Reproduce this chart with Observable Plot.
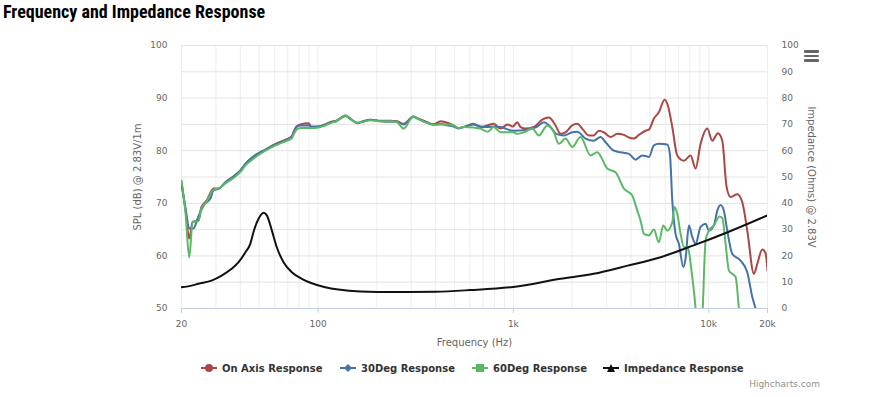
<!DOCTYPE html>
<html>
<head>
<meta charset="utf-8">
<script src="https://cdn.jsdelivr.net/npm/d3@7"></script>
<script src="https://cdn.jsdelivr.net/npm/@observablehq/plot@0.6"></script>
<style>
  html, body { margin: 0; padding: 0; background: #fff; }
  #wrap { position: relative; width: 874px; height: 397px; overflow: hidden; font-family: "DejaVu Sans", sans-serif; }
  #title { position: absolute; left: 3px; top: 1px; font: bold 18px/22px "Liberation Sans Narrow", "Roboto Condensed", Roboto, sans-serif; font-stretch: condensed; color: #000; white-space: nowrap; }
  .leg { position: absolute; top: 361px; display: flex; align-items: center; font: bold 10px "DejaVu Sans", sans-serif; color: #333; white-space: nowrap; height: 14px; }
  .leg svg { margin-right: 5px; }
  #credit { position: absolute; right: 54px; top: 379px; font: 9px "DejaVu Sans", sans-serif; color: #909090; }
  #menu { position: absolute; left: 804px; top: 50px; width: 15px; height: 12px; }
  #menu div { height: 2.5px; background: #666; margin-bottom: 2px; border-radius: 1px; }
</style>
</head>
<body>
<div id="wrap">
  <div id="title">Frequency and Impedance Response</div>
  <div id="menu"><div></div><div></div><div></div></div>
  <div id="credit">Highcharts.com</div>
</div>
<script>
// ---------- data (frequency Hz, value) ----------
const onAxis = [[20,74],[21,68.5],[21.9,63.3],[22.8,66.5],[24.4,66.7],[25.3,69.3],[26.9,70.5],[29.2,72.8],[30.9,72.8],[33.6,74],[36.9,75.1],[40.1,76.2],[42.5,77.5],[47.9,79.1],[53.8,80.2],[60.6,81.3],[68.2,82.1],[73.2,82.7],[75.5,83.8],[77.6,84.6],[81.4,85],[89.4,85.2],[92.6,84.5],[100.6,84.6],[109,85],[117,85.5],[124,85.7],[138,86.7],[146.6,86.1],[158.8,85.2],[171,85.6],[185.7,85.9],[209,85.7],[235,85.7],[254,85.6],[274,85.1],[308,86.5],[327,86.1],[362,85.4],[390,85],[424,85.6],[450,85.4],[494,84.8],[524,84.3],[556,84.5],[625,85.1],[679,84.5],[792,85.1],[860,84.2],[934,85],[993,84.6],[1047,85.4],[1088,84.5],[1154,84.2],[1274,84.5],[1406,85.9],[1520,86.3],[1644,84.8],[1744,83.2],[1850,83.5],[2002,84.8],[2124,85.1],[2252,84.2],[2436,82.9],[2575,82.9],[2740,83.8],[2906,83.5],[3145,82.6],[3404,83.2],[3680,83],[3902,82.5],[4140,82.3],[4390,83],[4750,83.8],[4940,84],[5240,86.1],[5556,87.3],[5944,89.7],[6180,88.6],[6510,84.5],[6904,79.1],[7464,78.1],[8078,79.1],[8566,76.6],[9090,81.3],[9834,84.2],[10434,81.9],[11144,83.3],[11738,81.9],[12348,73.1],[12940,71.2],[14006,71.7],[14856,70.2],[15760,64.8],[17040,56.6],[17734,58.5],[18808,61.2],[19558,60.5],[20000,57.2]];

const deg30 = [[20,73.5],[21,69],[21.9,65.2],[23,65.2],[24.4,67.5],[26.2,69.8],[28.2,71],[29.2,72.5],[30.9,72.7],[33.6,74],[36.9,75.1],[40.1,76.3],[42.5,77.5],[47.9,79.2],[53.8,80.2],[60.6,81.2],[68.2,82],[73.2,82.6],[75.5,83.7],[77.6,84.5],[81.4,84.8],[89.4,84.8],[92.6,84.6],[100.6,84.6],[109,85],[117,85.4],[124,85.6],[138,86.6],[146.6,86],[158.8,85.3],[171,85.6],[185.7,85.9],[209,85.6],[235,85.5],[254,85.5],[274,85],[308,86.4],[327,86],[362,85.3],[390,85],[424,85.1],[450,84.9],[494,84.6],[524,84.2],[556,84.5],[625,85],[679,84.6],[740,84.5],[792,84.6],[860,84.5],[1000,83.8],[1178,84],[1326,84.6],[1432,85.4],[1550,84.5],[1660,83.2],[1814,82.9],[2002,83.5],[2124,83.6],[2342,82.3],[2575,81.9],[2796,82.6],[2966,81.6],[3270,80],[3540,79.7],[3902,79.4],[4224,78.3],[4570,79.1],[4750,79],[4940,78.8],[5240,81],[5556,81.3],[6138,81.2],[6330,79.4],[6510,70.5],[6766,64.2],[7036,62.3],[7414,57.9],[7614,59.5],[7916,65.8],[8240,63.6],[8566,62.3],[9090,65.5],[9640,66.1],[10024,64.8],[10632,65.8],[11068,68.6],[11500,69.7],[11960,68.6],[12450,64.8],[13200,60.4],[14560,59.1],[15760,56.9],[16718,52.2],[17380,50],[18440,47],[20000,45]];

const deg60 = [[20,74.3],[21,68],[21.9,59.7],[22.8,66.4],[24.4,66.6],[25.3,69],[26.9,70.3],[29.2,72.6],[30.9,72.8],[33.6,73.8],[36.9,74.8],[40.1,76],[42.5,77.2],[47.9,78.8],[53.8,80],[60.6,81],[68.2,81.8],[73.2,82.3],[75.5,83.3],[77.6,84],[81.4,84.3],[89.4,84.3],[92.6,84.3],[100.6,84.4],[109,84.8],[117,85.3],[124,85.6],[138,86.7],[146.6,86],[158.8,85.3],[171,85.5],[185.7,85.8],[209,85.6],[235,85.6],[254,85.4],[274,84.2],[308,86.5],[327,86],[362,85.3],[390,84.9],[424,85],[450,85],[494,84.8],[524,84.3],[556,84.5],[625,84.4],[679,84.2],[740,83.6],[792,84.5],[860,83.5],[1000,83.5],[1047,83.2],[1131,83.5],[1250,84.2],[1350,82.9],[1492,84.8],[1612,83.5],[1710,81.3],[1850,82.3],[2002,80.7],[2208,82.6],[2484,79.1],[2690,79.7],[3025,76.6],[3336,75.9],[3680,72.8],[4060,71.5],[4310,68.6],[4480,66.7],[4660,64.2],[4940,63.9],[5240,65],[5556,62.6],[5854,65.8],[6138,64.8],[6510,66.4],[6686,69.3],[6904,68],[7180,64.2],[7464,61.7],[7770,61.7],[8240,56],[8570,50],[8900,42],[9268,48],[9640,62.9],[10024,64.8],[10632,65.8],[11356,67.5],[11738,67.2],[12204,62.3],[12690,57.2],[13734,56],[14278,50],[15000,42],[20000,35]];

const impedance = [[20,8.1],[22.2,8.6],[24.4,9.4],[28.5,10.6],[32.1,12.5],[36.1,15.1],[39.2,17.6],[42.5,21.4],[45,24.6],[46.7,29],[49.6,34.1],[52.6,36.4],[54.7,35.4],[58,29.7],[61.5,23.3],[66.6,17.6],[73.4,13.8],[82.6,11.3],[92.9,9.6],[108.8,8.1],[127,7.2],[165,6.5],[250,6.3],[400,6.4],[600,7],[1000,8.2],[1744,11.3],[2575,13.2],[3843,16.3],[5672,19.5],[8370,24],[12500,29],[20000,35.4]];

const seriesNames = ["On Axis Response", "30Deg Response", "60Deg Response", "Impedance Response"];
const seriesColors = ["#AA4643", "#4572A7", "#5BB865", "#111111"];
const xTicks = [20, 100, 1000, 10000, 20000];
const xTickLabels = ["20", "100", "1k", "10k", "20k"];
const splTicks = [50, 60, 70, 80, 90, 100];
const ohmTicks = [0, 10, 20, 30, 40, 50, 60, 70, 80, 90, 100];
const xGrid = [20,30,40,50,60,70,80,90,100,200,300,400,500,600,700,800,900,1000,2000,3000,4000,5000,6000,7000,8000,9000,10000,20000];

// impedance axis (0..100 ohm) shares the SPL scale: 0 ohm -> 50 dB, 100 ohm -> 100 dB
const ohmToSpl = z => 50 + z / 2;

const lineOpts = (color) => ({
  x: d => d[0], y: d => d[1], stroke: color, strokeWidth: 2,
  curve: "monotone-x", clip: true
});

const chart = Plot.plot({
  width: 874, height: 397,
  marginTop: 45, marginBottom: 89, marginLeft: 181, marginRight: 107,
  x: { type: "log", domain: [20, 20000] },
  y: { domain: [50, 100] },
  style: { fontFamily: "DejaVu Sans, sans-serif", fontSize: "9px", color: "#666", background: "transparent", overflow: "visible" },
  marks: [
    Plot.gridX(xGrid, { stroke: "#eeeeee", strokeOpacity: 1 }),
    Plot.gridY(ohmTicks.map(ohmToSpl), { stroke: "#e3e3e3", strokeOpacity: 1 }),
    Plot.axisY(splTicks, { anchor: "left", tickSize: 0, tickPadding: 14, label: null }),
    Plot.axisY(ohmTicks.map(ohmToSpl), { anchor: "right", tickSize: 0, tickPadding: 14, label: null, tickFormat: d => String(Math.round((d - 50) * 2)) }),
    Plot.ruleY([50], { stroke: "#C0D0E0" }),
    Plot.axisX(xTicks, { anchor: "bottom", tickSize: 5, tickPadding: 7, stroke: "#C0D0E0", label: null, tickFormat: d => xTickLabels[xTicks.indexOf(d)] }),
    Plot.text(["SPL (dB) @ 2.83V/1m"], { frameAnchor: "left", textAnchor: "middle", dx: -44, rotate: -90, fontSize: 10, fill: "#666" }),
    Plot.text(["Impedance (Ohms) @ 2.83V"], { frameAnchor: "right", textAnchor: "middle", dx: 44, rotate: 90, fontSize: 10, fill: "#666" }),
    Plot.text(["Frequency (Hz)"], { frameAnchor: "bottom", textAnchor: "middle", dy: 37, fontSize: 10, fill: "#666" }),
    Plot.line(onAxis, lineOpts(seriesColors[0])),
    Plot.line(deg30, lineOpts(seriesColors[1])),
    Plot.line(deg60, lineOpts(seriesColors[2])),
    Plot.line(impedance, { ...lineOpts(seriesColors[3]), y: d => ohmToSpl(d[1]) })
  ]
});
chart.style.position = "absolute";
chart.style.left = "0px";
chart.style.top = "0px";
const wrap = document.getElementById("wrap");
wrap.insertBefore(chart, wrap.firstChild);

// legend
const legendLeft = [201, 340, 472, 603];
const symbols = [
  c => `<circle cx="8" cy="7" r="4" fill="${c}"/>`,
  c => `<path d="M8 3 L12 7 L8 11 L4 7 Z" fill="${c}"/>`,
  c => `<rect x="4" y="3" width="8" height="8" fill="${c}"/>`,
  c => `<path d="M8 3 L12 11 L4 11 Z" fill="${c}"/>`
];
seriesNames.forEach((name, i) => {
  const item = document.createElement("div");
  item.className = "leg";
  item.style.left = legendLeft[i] + "px";
  item.innerHTML = `<svg width="16" height="14"><line x1="0" x2="16" y1="7" y2="7" stroke="${seriesColors[i]}" stroke-width="2"/>${symbols[i](seriesColors[i])}</svg><span>${name}</span>`;
  wrap.appendChild(item);
});
</script>
</body>
</html>
